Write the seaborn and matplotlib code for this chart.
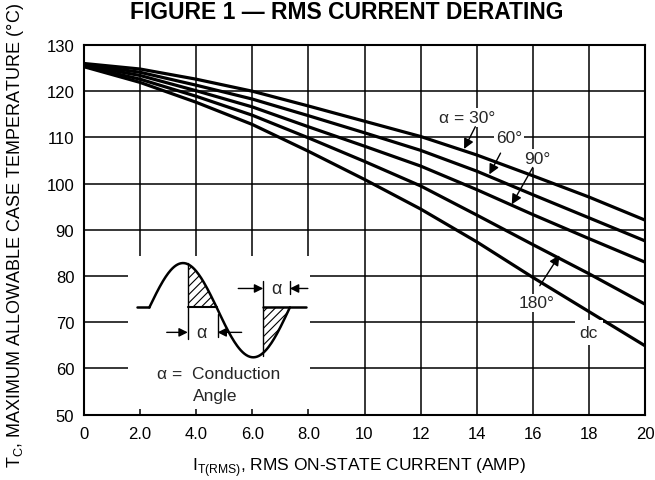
import numpy as np
import pandas as pd
import matplotlib
matplotlib.use("Agg")
import matplotlib.pyplot as plt
import seaborn as sns

# ---------------- data ----------------
current = [0, 2, 4, 6, 8, 10, 12, 14, 16, 18, 20]
t_30 = [126.0, 124.8, 122.6, 120.0, 116.8, 113.5, 110.2, 106.2, 101.7, 97.1, 92.1]
t_60 = [125.8, 124.1, 121.3, 118.3, 114.7, 111.0, 107.2, 102.7, 97.6, 92.6, 87.6]
t_90 = [125.6, 123.4, 120.1, 116.6, 112.3, 108.1, 103.8, 98.7, 93.3, 88.1, 83.0]
t_180 = [125.4, 122.6, 118.9, 114.8, 109.9, 104.8, 99.5, 93.2, 86.8, 80.5, 73.9]
t_dc = [125.3, 121.9, 117.6, 112.8, 107.0, 100.9, 94.5, 87.4, 79.7, 72.3, 64.9]
series_names = ["30", "60", "90", "180", "dc"]
x_ticks = [0, 2, 4, 6, 8, 10, 12, 14, 16, 18, 20]
x_tick_labels = ["0", "2.0", "4.0", "6.0", "8.0", "10", "12", "14", "16", "18", "20"]
y_ticks = [50, 60, 70, 80, 90, 100, 110, 120, 130]

df = pd.DataFrame({
    "I": current * 5,
    "T": t_30 + t_60 + t_90 + t_180 + t_dc,
    "curve": sum([[n] * len(current) for n in series_names], []),
})

sns.set_theme(style="white")
FONT = ["Liberation Sans", "DejaVu Sans"]
plt.rcParams["font.family"] = FONT
plt.rcParams["mathtext.fontset"] = "custom"
plt.rcParams["mathtext.rm"] = "Liberation Sans"
plt.rcParams["hatch.linewidth"] = 0.8

fig = plt.figure(figsize=(6.55, 4.81), dpi=100)
ax = fig.add_axes([84 / 655, 1 - 415.6 / 481, (645 - 84) / 655, (415.6 - 46) / 481])

sns.lineplot(data=df, x="I", y="T", hue="curve", palette=["black"] * 5,
             linewidth=2.3, legend=False, ax=ax, zorder=4)

ax.set_xlim(0, 20)
ax.set_ylim(50, 130)
ax.set_xticks(x_ticks)
ax.set_xticklabels(x_tick_labels)
ax.set_yticks(y_ticks)
ax.tick_params(length=0, labelsize=12, colors="black")
ax.tick_params(axis="x", pad=8)
ax.tick_params(axis="y", pad=7)
ax.grid(True, color="black", linewidth=1.1, zorder=0)
ax.set_axisbelow(True)
for s in ax.spines.values():
    s.set_color("black")
    s.set_linewidth(1.5)

ax.set_xlabel(r"I$_{\mathregular{T(RMS)}}$, RMS ON-STATE CURRENT (AMP)", fontsize=12.5,
              color="black")
ax.xaxis.set_label_coords((359 - 84) / 561, (415.6 - 456) / 369.6)
ax.set_ylabel(r"T$_{\mathregular{C}}$, MAXIMUM ALLOWABLE CASE TEMPERATURE (°C)", fontsize=13,
              color="black")
ax.yaxis.set_label_coords((26 - 84) / 561, (415.6 - 236) / 369.6)
fig.text(0.530, 1 - 19 / 481, "FIGURE 1 — RMS CURRENT DERATING", ha="center", va="baseline",
         fontsize=16.5, fontweight="bold", color="black")

# ---------------- curve annotations ----------------
bbox = dict(boxstyle="square,pad=0.1", fc="white", ec="none")
arrow = dict(arrowstyle="-|>", color="black", lw=1.0, mutation_scale=15, shrinkA=0, shrinkB=0)
ax.text(13.65, 114.3, "α = 30°", ha="center", va="center", fontsize=12.5, bbox=bbox, zorder=5)
ax.annotate("", xy=(13.55, 107.5), xytext=(13.95, 112.3), arrowprops=arrow, zorder=6)
ax.text(15.15, 110.0, "60°", ha="center", va="center", fontsize=12.5, bbox=bbox, zorder=5)
ax.annotate("", xy=(14.45, 102.0), xytext=(14.85, 106.6), arrowprops=arrow, zorder=6)
ax.text(16.15, 105.4, "90°", ha="center", va="center", fontsize=12.5, bbox=bbox, zorder=5)
ax.annotate("", xy=(15.25, 95.5), xytext=(16.0, 103.5), arrowprops=arrow, zorder=6)
ax.text(16.15, 74.2, "180°", ha="center", va="center", fontsize=12.5, bbox=bbox, zorder=5)
ax.annotate("", xy=(16.95, 84.5), xytext=(16.25, 77.9), arrowprops=arrow, zorder=6)
ax.text(18.0, 67.8, "dc", ha="center", va="center", fontsize=12.5,
        bbox=dict(boxstyle="square,pad=0.3", fc="white", ec="none"), zorder=5)

# ---------------- inset: conduction angle sketch ----------------
ax.fill_between([1.57, 8.05], 51.3, 84.3, color="white", zorder=2, lw=0)
base = 73.2
xp = np.linspace(2.33, 4.73, 80)
yp = base + 9.6 * np.sin(np.pi * (xp - 2.33) / 2.40)
xn = np.linspace(4.73, 7.34, 80)
yn = base - 10.8 * np.sin(np.pi * (xn - 4.73) / 2.61)
ax.plot([1.88, 2.33], [base, base], color="black", lw=1.8, zorder=3)
ax.plot(np.r_[xp, xn], np.r_[yp, yn], color="black", lw=1.8, zorder=3)
ax.plot([6.39, 7.93], [base, base], color="black", lw=1.8, zorder=3)
ax.plot([3.70, 4.73], [base, base], color="black", lw=1.5, zorder=3)
# hatched areas
mh = xp >= 3.70
ax.fill_between(xp[mh], base, yp[mh], facecolor="none", edgecolor="black", hatch="////",
                lw=0, zorder=3)
mn = xn >= 6.39
ax.fill_between(xn[mn], yn[mn], base, facecolor="none", edgecolor="black", hatch="////",
                lw=0, zorder=3)
# vertical lines
ax.plot([3.70, 3.70], [66.4, base + 9.6], color="black", lw=1.0, zorder=3)
ax.plot([4.76, 4.76], [66.7, 71.8], color="black", lw=1.0, zorder=3)
ax.plot([6.39, 6.39], [base - 10.6, 79.0], color="black", lw=1.0, zorder=3)
ax.plot([7.34, 7.34], [76.1, 79.0], color="black", lw=1.0, zorder=3)
# dimension arrows
darrow = dict(arrowstyle="-|>", color="black", lw=1.0, mutation_scale=13, shrinkA=0, shrinkB=0)
ax.annotate("", xy=(3.70, 67.8), xytext=(2.95, 67.8), arrowprops=darrow, zorder=4)
ax.annotate("", xy=(4.76, 67.8), xytext=(5.62, 67.8), arrowprops=darrow, zorder=4)
ax.text(4.2, 67.8, "α", ha="center", va="center", fontsize=13, zorder=4)
ax.annotate("", xy=(6.39, 77.3), xytext=(5.50, 77.3), arrowprops=darrow, zorder=4)
ax.annotate("", xy=(7.34, 77.3), xytext=(7.98, 77.3), arrowprops=darrow, zorder=4)
ax.text(6.86, 77.3, "α", ha="center", va="center", fontsize=13, zorder=4)
ax.text(2.59, 59.0, "α =  Conduction", ha="left", va="center", fontsize=12.5, zorder=4)
ax.text(3.89, 54.1, "Angle", ha="left", va="center", fontsize=12.5, zorder=4)

fig.savefig("out.png", dpi=100)
